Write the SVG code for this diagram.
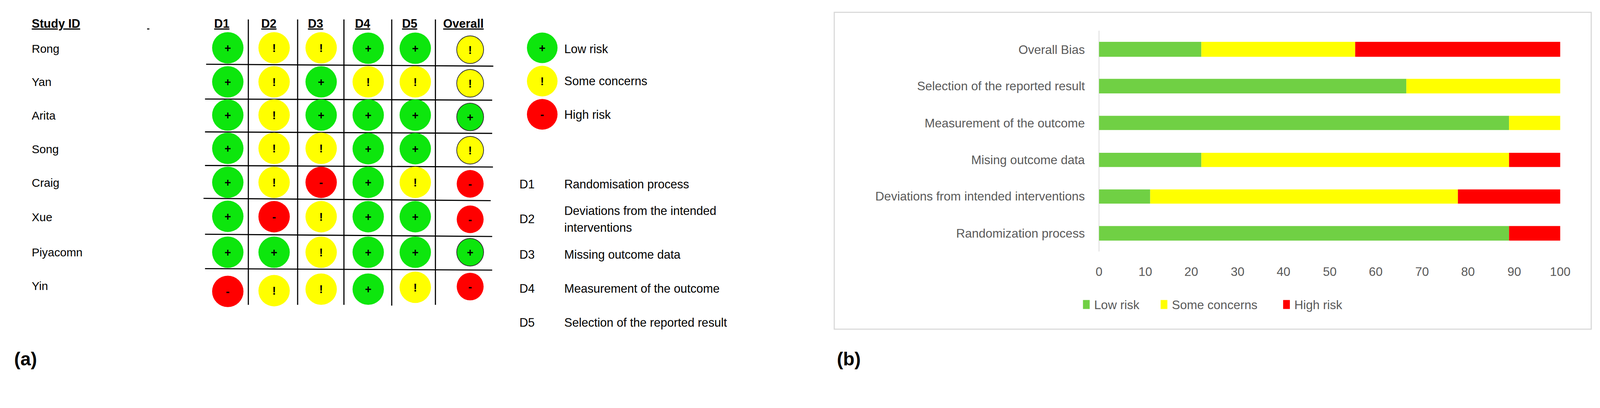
<svg xmlns="http://www.w3.org/2000/svg" width="4285" height="1044" viewBox="0 0 4285 1044">
<style>
.t{font-family:"Liberation Sans",Arial,sans-serif;fill:#000}
.h{font-family:"Liberation Sans",Arial,sans-serif;font-weight:bold;font-size:32px;text-decoration:underline}
.n{font-family:"Liberation Sans",Arial,sans-serif;font-size:31px}
.s{font-family:"Liberation Sans",Arial,sans-serif;font-weight:bold;font-size:30px;text-anchor:middle}
.g{fill:#0de60d}.y{fill:#ffff00}.r{fill:#ff0000}
.o{stroke:#333;stroke-width:2}
.c{font-family:"Liberation Sans",Arial,sans-serif;font-size:33px;fill:#595959}
.grid{stroke:#000;stroke-width:3}
</style>
<rect width="4285" height="1044" fill="#fff"/>
<g transform="scale(0.956)">
<g id="panel-a">
<text class="h" x="85" y="74">Study ID</text>
<rect x="394" y="76" width="6" height="3" fill="#000"/>
<g class="h" text-anchor="middle">
<text x="594" y="74">D1</text><text x="720" y="74">D2</text><text x="845" y="74">D3</text><text x="971" y="74">D4</text><text x="1097" y="74">D5</text><text x="1241" y="74">Overall</text>
</g>
<g class="n">
<text x="85" y="141">Rong</text><text x="85" y="230">Yan</text><text x="85" y="320">Arita</text><text x="85" y="410">Song</text><text x="85" y="500">Craig</text><text x="85" y="592">Xue</text><text x="85" y="686">Piyacomn</text><text x="85" y="776">Yin</text>
</g>
<g class="grid">
<line x1="665" y1="52" x2="665" y2="816"/><line x1="797" y1="52" x2="797" y2="816"/><line x1="921" y1="52" x2="921" y2="816"/><line x1="1049" y1="52" x2="1049" y2="818"/><line x1="1166" y1="52" x2="1166" y2="816"/>
<line x1="552" y1="172" x2="1321" y2="177"/><line x1="549" y1="265" x2="1318" y2="268"/><line x1="549" y1="353" x2="1318" y2="357"/><line x1="549" y1="443" x2="1320" y2="447"/><line x1="545" y1="531" x2="1314" y2="537"/><line x1="549" y1="627" x2="1318" y2="633"/><line x1="549" y1="719" x2="1318" y2="723"/>
</g>
<g id="cells">
<circle class="g" cx="610" cy="128" r="42"/><circle class="y" cx="734" cy="128" r="42"/><circle class="y" cx="860" cy="128" r="42"/><circle class="g" cx="986" cy="129" r="42"/><circle class="g" cx="1112" cy="129" r="42"/><ellipse class="y o" cx="1259" cy="133" rx="36" ry="37"/>
<circle class="g" cx="610" cy="219" r="42"/><circle class="y" cx="734" cy="219" r="42"/><circle class="g" cx="860" cy="219" r="42"/><circle class="y" cx="986" cy="219" r="42"/><circle class="y" cx="1112" cy="219" r="42"/><ellipse class="y o" cx="1259" cy="223" rx="36" ry="37"/>
<circle class="g" cx="610" cy="308" r="42"/><circle class="y" cx="734" cy="308" r="42"/><circle class="g" cx="860" cy="308" r="42"/><circle class="g" cx="986" cy="308" r="42"/><circle class="g" cx="1112" cy="308" r="42"/><ellipse class="g o" cx="1259" cy="313" rx="36" ry="37"/>
<circle class="g" cx="610" cy="397" r="42"/><circle class="y" cx="734" cy="397" r="42"/><circle class="y" cx="860" cy="397" r="42"/><circle class="g" cx="986" cy="398" r="42"/><circle class="g" cx="1112" cy="398" r="42"/><ellipse class="y o" cx="1259" cy="402" rx="36" ry="37"/>
<circle class="g" cx="610" cy="488" r="42"/><circle class="y" cx="734" cy="488" r="42"/><circle class="r" cx="860" cy="488" r="42"/><circle class="g" cx="986" cy="488" r="42"/><circle class="y" cx="1112" cy="488" r="42"/><ellipse class="r" cx="1259" cy="492" rx="36" ry="37"/>
<circle class="g" cx="610" cy="579" r="42"/><circle class="r" cx="734" cy="580" r="42"/><circle class="y" cx="860" cy="580" r="42"/><circle class="g" cx="986" cy="580" r="42"/><circle class="g" cx="1112" cy="580" r="42"/><ellipse class="r" cx="1259" cy="587" rx="36" ry="37"/>
<circle class="g" cx="610" cy="675" r="42"/><circle class="g" cx="734" cy="675" r="42"/><circle class="y" cx="860" cy="675" r="42"/><circle class="g" cx="986" cy="675" r="42"/><circle class="g" cx="1112" cy="675" r="42"/><ellipse class="g o" cx="1259" cy="675" rx="36" ry="37"/>
<circle class="r" cx="610" cy="780" r="42"/><circle class="y" cx="734" cy="778" r="42"/><circle class="y" cx="860" cy="774" r="42"/><circle class="g" cx="986" cy="774" r="42"/><circle class="y" cx="1112" cy="769" r="42"/><ellipse class="r" cx="1259" cy="767" rx="36" ry="37"/>
</g>
<g id="symbols" class="s">
<text x="610" y="139">+</text><text x="734" y="139">!</text><text x="860" y="139">!</text><text x="986" y="140">+</text><text x="1112" y="140">+</text><text x="1259" y="144">!</text>
<text x="610" y="230">+</text><text x="734" y="230">!</text><text x="860" y="230">+</text><text x="986" y="230">!</text><text x="1112" y="230">!</text><text x="1259" y="234">!</text>
<text x="610" y="319">+</text><text x="734" y="319">!</text><text x="860" y="319">+</text><text x="986" y="319">+</text><text x="1112" y="319">+</text><text x="1259" y="324">+</text>
<text x="610" y="408">+</text><text x="734" y="408">!</text><text x="860" y="408">!</text><text x="986" y="409">+</text><text x="1112" y="409">+</text><text x="1259" y="413">!</text>
<text x="610" y="499">+</text><text x="734" y="499">!</text><text x="860" y="499">-</text><text x="986" y="499">+</text><text x="1112" y="499">!</text><text x="1259" y="503">-</text>
<text x="610" y="590">+</text><text x="734" y="591">-</text><text x="860" y="591">!</text><text x="986" y="591">+</text><text x="1112" y="591">+</text><text x="1259" y="598">-</text>
<text x="610" y="686">+</text><text x="734" y="686">+</text><text x="860" y="686">!</text><text x="986" y="686">+</text><text x="1112" y="686">+</text><text x="1259" y="686">+</text>
<text x="610" y="791">-</text><text x="734" y="789">!</text><text x="860" y="785">!</text><text x="986" y="785">+</text><text x="1112" y="780">!</text><text x="1259" y="778">-</text>
</g>
<g id="legend">
<circle class="g" cx="1452" cy="128" r="41"/><text class="s" x="1452" y="139">+</text><text class="t" font-size="32" x="1511" y="142">Low risk</text>
<circle class="y" cx="1452" cy="217" r="41"/><text class="s" x="1452" y="228">!</text><text class="t" font-size="32" x="1511" y="228">Some concerns</text>
<circle class="r" cx="1452" cy="306" r="41"/><text class="s" x="1452" y="317">-</text><text class="t" font-size="32" x="1511" y="318">High risk</text>
</g>
<g id="domains" class="t" font-size="32">
<text x="1391" y="504">D1</text><text x="1511" y="504">Randomisation process</text>
<text x="1391" y="597">D2</text><text x="1511" y="575">Deviations from the intended</text><text x="1511" y="620">interventions</text>
<text x="1391" y="693">D3</text><text x="1511" y="693">Missing outcome data</text>
<text x="1391" y="784">D4</text><text x="1511" y="784">Measurement of the outcome</text>
<text x="1391" y="874">D5</text><text x="1511" y="874">Selection of the reported result</text>
</g>
<text class="t" font-weight="bold" font-size="50" x="38" y="978">(a)</text>
</g>
<g id="panel-b">
<rect x="2234" y="33" width="2027" height="848" fill="#fff" stroke="#d9d9d9" stroke-width="3"/>
<line x1="2943" y1="82" x2="2943" y2="673" stroke="#d9d9d9" stroke-width="2"/>
<g id="bars">
<rect x="2943" y="112" width="274" height="40" fill="#70d044"/><rect x="3217" y="112" width="412" height="40" fill="#ffff00"/><rect x="3629" y="112" width="549" height="40" fill="#ff0000"/>
<rect x="2943" y="211" width="823" height="39" fill="#70d044"/><rect x="3766" y="211" width="412" height="39" fill="#ffff00"/>
<rect x="2943" y="310" width="1098" height="38" fill="#70d044"/><rect x="4041" y="310" width="137" height="38" fill="#ffff00"/>
<rect x="2943" y="409" width="274" height="38" fill="#70d044"/><rect x="3217" y="409" width="824" height="38" fill="#ffff00"/><rect x="4041" y="409" width="137" height="38" fill="#ff0000"/>
<rect x="2943" y="507" width="137" height="38" fill="#70d044"/><rect x="3080" y="507" width="824" height="38" fill="#ffff00"/><rect x="3904" y="507" width="274" height="38" fill="#ff0000"/>
<rect x="2943" y="605" width="1098" height="39" fill="#70d044"/><rect x="4041" y="605" width="137" height="39" fill="#ff0000"/>
</g>
<g class="c" text-anchor="end">
<text x="2905" y="144">Overall Bias</text>
<text x="2905" y="242">Selection of the reported result</text>
<text x="2905" y="341">Measurement of the outcome</text>
<text x="2905" y="439">Mising outcome data</text>
<text x="2905" y="537">Deviations from intended interventions</text>
<text x="2905" y="636">Randomization process</text>
</g>
<g class="c" text-anchor="middle">
<text x="2943" y="738">0</text><text x="3067" y="738">10</text><text x="3190" y="738">20</text><text x="3314" y="738">30</text><text x="3437" y="738">40</text><text x="3561" y="738">50</text><text x="3684" y="738">60</text><text x="3808" y="738">70</text><text x="3931" y="738">80</text><text x="4055" y="738">90</text><text x="4178" y="738">100</text>
</g>
<g id="chart-legend" class="c">
<rect x="2900" y="803" width="18" height="24" fill="#70d044"/><text x="2930" y="827">Low risk</text>
<rect x="3108" y="803" width="18" height="24" fill="#ffff00"/><text x="3138" y="827">Some concerns</text>
<rect x="3436" y="803" width="18" height="24" fill="#ff0000"/><text x="3466" y="827">High risk</text>
</g>
<text class="t" font-weight="bold" font-size="50" x="2241" y="978">(b)</text>
</g>
</g>
</svg>
